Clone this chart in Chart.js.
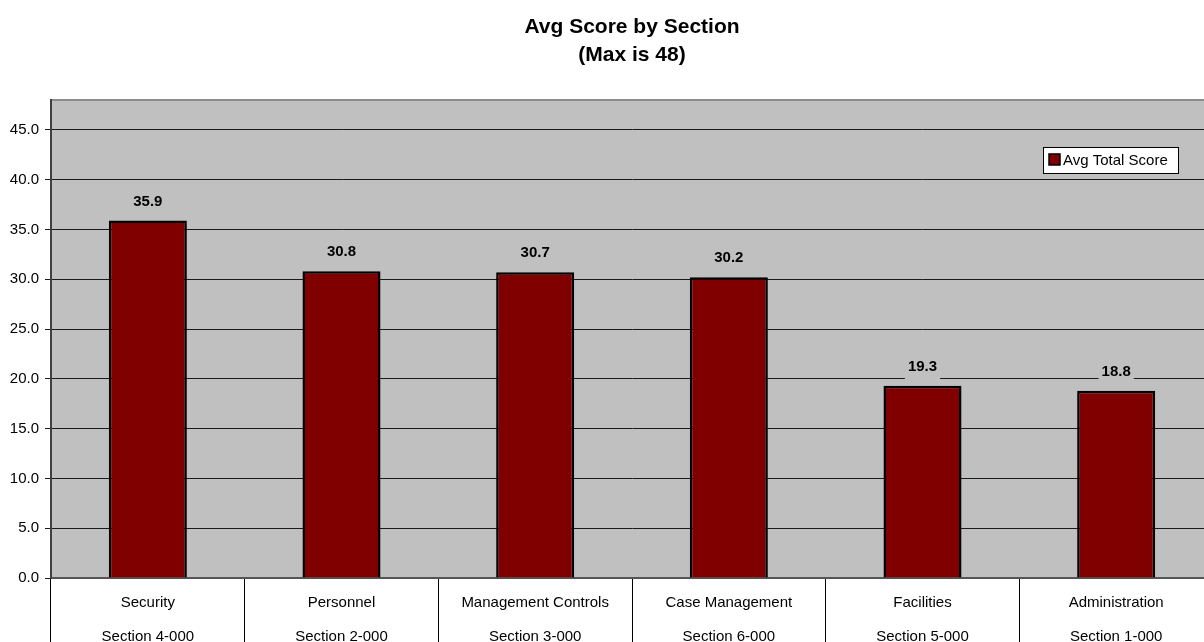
<!DOCTYPE html>
<html lang="en">
<head>
    <meta charset="UTF-8">
    <title>Avg Score by Section</title>
    <script src="https://cdn.jsdelivr.net/npm/chart.js"></script>
    <style>
        html, body {
            margin: 0;
            padding: 0;
            background: #ffffff;
            overflow: hidden;
        }

        .chart-wrap {
            width: 1216px;
            height: 642px;
        }
    </style>
</head>
<body>
    <div class="chart-wrap">
        <canvas id="scoreChart" width="1216" height="642"></canvas>
    </div>

    <script>
        // chart data
        const sections = ["Security", "Personnel", "Management Controls", "Case Management", "Facilities", "Administration"];
        const sectionCodes = ["Section 4-000", "Section 2-000", "Section 3-000", "Section 6-000", "Section 5-000", "Section 1-000"];
        const avgScores = [35.9, 30.8, 30.7, 30.2, 19.3, 18.8];
        const seriesName = "Avg Total Score";
        const maxScore = 48;

        const FONT = "'Liberation Sans', Arial, sans-serif";
        const PLOT_BG = "#c0c0c0";
        const BAR_COLOR = "#800000";

        // grey plot area behind the bars
        const plotBackground = {
            id: "plotBackground",
            beforeDraw(chart) {
                const { ctx, chartArea } = chart;
                ctx.save();
                ctx.fillStyle = PLOT_BG;
                ctx.fillRect(chartArea.left, chartArea.top, chartArea.right - chartArea.left, chartArea.bottom - chartArea.top);
                ctx.restore();
            }
        };

        // value labels above each bar
        const barValueLabels = {
            id: "barValueLabels",
            afterDatasetsDraw(chart) {
                const ctx = chart.ctx;
                const meta = chart.getDatasetMeta(0);
                ctx.save();
                ctx.font = "bold 15px " + FONT;
                ctx.textAlign = "center";
                ctx.textBaseline = "middle";
                meta.data.forEach((bar, i) => {
                    const text = chart.data.datasets[0].data[i].toFixed(1);
                    const w = ctx.measureText(text).width + 6;
                    const cy = bar.y - 19;
                    ctx.fillStyle = PLOT_BG;
                    ctx.fillRect(bar.x - w / 2, cy - 15, w, 30);
                    ctx.fillStyle = "#000";
                    ctx.fillText(text, bar.x, cy);
                });
                ctx.restore();
            }
        };

        // boxed legend inside the plot area
        const boxedLegend = {
            id: "boxedLegend",
            afterDraw(chart) {
                const { ctx, chartArea } = chart;
                const ds = chart.data.datasets[0];
                const x = chartArea.right - 35 - 135;
                const y = chartArea.top + 47;
                ctx.save();
                ctx.fillStyle = "#fff";
                ctx.fillRect(x, y, 135, 26);
                ctx.strokeStyle = "#000";
                ctx.lineWidth = 1;
                ctx.strokeRect(x + 0.5, y + 0.5, 135, 26);
                ctx.fillStyle = ds.backgroundColor;
                ctx.fillRect(x + 6, y + 7, 11, 11);
                ctx.lineWidth = 1.5;
                ctx.strokeRect(x + 6, y + 7, 11, 11);
                ctx.fillStyle = "#000";
                ctx.font = "15px " + FONT;
                ctx.textBaseline = "middle";
                ctx.textAlign = "left";
                ctx.fillText(ds.label, x + 20, y + 13.5);
                ctx.restore();
            }
        };

        function drawScoreChart() {
            const ctx = document.getElementById("scoreChart").getContext("2d");
            const labels = sections.map((name, i) => [name, sectionCodes[i]]);

            new Chart(ctx, {
                type: "bar",
                data: {
                    labels: labels,
                    datasets: [{
                        label: seriesName,
                        data: avgScores,
                        backgroundColor: BAR_COLOR,
                        borderColor: "#000",
                        borderWidth: 2.5,
                        barPercentage: 0.403,
                        categoryPercentage: 1
                    }]
                },
                options: {
                    responsive: false,
                    animation: false,
                    devicePixelRatio: 1,
                    layout: { padding: { top: 0, left: 0, right: 3, bottom: 0 } },
                    plugins: {
                        legend: { display: false },
                        tooltip: { enabled: false },
                        title: {
                            display: true,
                            fullSize: false,
                            text: ["Avg Score by Section", "(Max is " + maxScore + ")"],
                            color: "#000",
                            font: { family: FONT, size: 21, weight: "bold", lineHeight: 1.333 },
                            padding: { top: 13, bottom: 31 }
                        }
                    },
                    scales: {
                        x: {
                            grid: {
                                offset: true,
                                drawOnChartArea: false,
                                drawTicks: true,
                                tickLength: 64,
                                color: "#000",
                                lineWidth: 1
                            },
                            border: { display: true, color: "#555", width: 2 },
                            ticks: {
                                color: "#000",
                                padding: -56,
                                autoSkip: false,
                                maxRotation: 0,
                                font: { family: FONT, size: 15, lineHeight: 2.27 }
                            },
                            afterFit(scale) { scale.height = 64; }
                        },
                        y: {
                            min: 0,
                            max: maxScore,
                            ticks: {
                                stepSize: 5,
                                color: "#000",
                                padding: 6,
                                font: { family: FONT, size: 15 },
                                callback: v => v === maxScore ? "" : v.toFixed(1)
                            },
                            grid: {
                                color: c => c.tick && c.tick.value === maxScore ? "#8c8c8c" : "#1a1a1a",
                                lineWidth: c => c.tick && c.tick.value === maxScore ? 2 : 1,
                                tickColor: c => c.tick && c.tick.value === maxScore ? "rgba(0,0,0,0)" : "#1a1a1a",
                                tickLength: 6
                            },
                            border: { display: true, color: "#404040", width: 2 },
                            afterFit(scale) { scale.width = 51; }
                        }
                    }
                },
                plugins: [plotBackground, barValueLabels, boxedLegend]
            });
        }

        drawScoreChart();
    </script>
</body>
</html>
